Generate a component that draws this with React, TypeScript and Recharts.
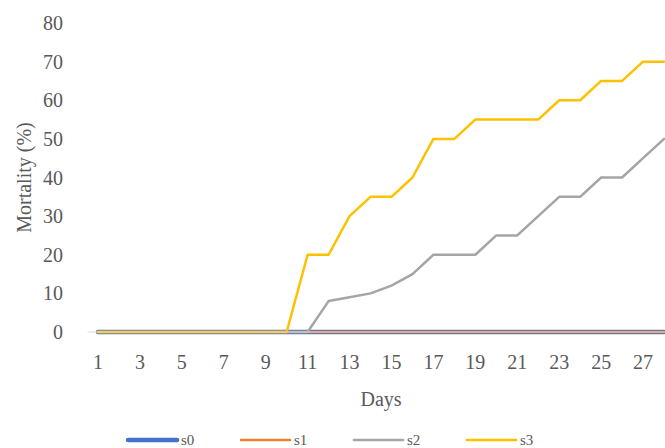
import React from "react";
import { LineChart, Line, XAxis, YAxis, Legend, Label } from "recharts";

const days = [1, 2, 3, 4, 5, 6, 7, 8, 9, 10, 11, 12, 13, 14, 15, 16, 17, 18, 19, 20, 21, 22, 23, 24, 25, 26, 27, 28];
const s0 = [0, 0, 0, 0, 0, 0, 0, 0, 0, 0, 0, 0, 0, 0, 0, 0, 0, 0, 0, 0, 0, 0, 0, 0, 0, 0, 0, 0];
const s1 = [0, 0, 0, 0, 0, 0, 0, 0, 0, 0, 0, 0, 0, 0, 0, 0, 0, 0, 0, 0, 0, 0, 0, 0, 0, 0, 0, 0];
const s2 = [0, 0, 0, 0, 0, 0, 0, 0, 0, 0, 0, 8, 9, 10, 12, 15, 20, 20, 20, 25, 25, 30, 35, 35, 40, 40, 45, 50];
const s3 = [0, 0, 0, 0, 0, 0, 0, 0, 0, 0, 20, 20, 30, 35, 35, 40, 50, 50, 55, 55, 55, 55, 60, 60, 65, 65, 70, 70];

const xTicks = [1, 3, 5, 7, 9, 11, 13, 15, 17, 19, 21, 23, 25, 27];
const yTicks = [0, 10, 20, 30, 40, 50, 60, 70, 80];

const seriesNames = ["s0", "s1", "s2", "s3"];
const colors = ["#4472C4", "#ED7D31", "#A5A5A5", "#FFC000"];
const widths = [4.5, 2.5, 2.5, 2.5];

const data = days.map((d, i) => ({ day: d, s0: s0[i], s1: s1[i], s2: s2[i], s3: s3[i] }));

const FONT = "'Liberation Serif', 'Times New Roman', serif";
const TEXT = "#595959";

function LegendContent() {
  return (
    <svg width={665} height={36} style={{ display: "block" }}>
      {seriesNames.map((name, i) => {
        const x0 = 128 + i * 113;
        return (
          <g key={name}>
            <line x1={x0} y1={28} x2={x0 + 49} y2={28} stroke={colors[i]} strokeWidth={widths[i]} strokeLinecap="round" />
            <text x={x0 + 53} y={28} dominantBaseline="central" fontFamily={FONT} fontSize={15} fill={TEXT}>
              {name}
            </text>
          </g>
        );
      })}
    </svg>
  );
}

export default function App() {
  return (
    <div style={{ position: "fixed", left: 0, top: 0, width: 665, height: 448, overflow: "hidden", background: "#fff" }}>
      <LineChart width={680} height={448} data={data} margin={{ top: 23, right: 5.5, left: 0, bottom: 0 }}>
        <XAxis
          dataKey="day"
          type="number"
          domain={[0.5, 28.5]}
          ticks={xTicks}
          interval={0}
          height={80}
          axisLine={{ stroke: "#D9D9D9", strokeWidth: 1 }}
          tickLine={false}
          tickSize={0}
          tickMargin={23}
          tick={{ fill: TEXT, fontSize: 20, fontFamily: FONT }}
        >
          <Label value="Days" position="insideBottom" offset={6} fill={TEXT} fontSize={20} fontFamily={FONT} />
        </XAxis>
        <YAxis
          type="number"
          domain={[0, 80]}
          ticks={yTicks}
          interval={0}
          width={87.5}
          axisLine={false}
          tickLine={false}
          tickSize={0}
          tickMargin={24.5}
          tick={{ fill: TEXT, fontSize: 20, fontFamily: FONT }}
        >
          <Label
            value="Mortality (%)"
            angle={-90}
            position="insideLeft"
            offset={24}
            fill={TEXT}
            fontSize={20}
            fontFamily={FONT}
            style={{ textAnchor: "middle" }}
          />
        </YAxis>
        <Legend verticalAlign="bottom" content={<LegendContent />} />
        {seriesNames.map((name, i) => (
          <Line
            key={name}
            dataKey={name}
            type="linear"
            stroke={colors[i]}
            strokeWidth={widths[i]}
            strokeLinecap="round"
            strokeLinejoin="round"
            dot={false}
            activeDot={false}
            isAnimationActive={false}
          />
        ))}
      </LineChart>
    </div>
  );
}
